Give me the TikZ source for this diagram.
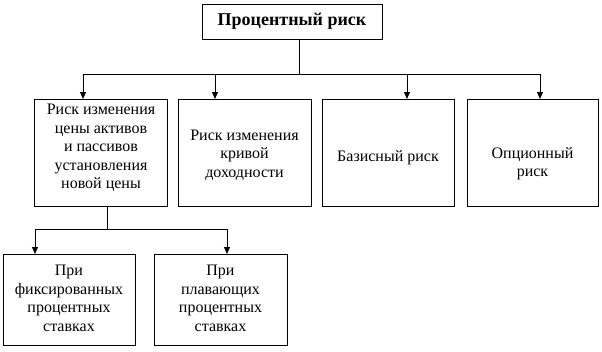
\documentclass[tikz,border=0pt]{standalone}
\usepackage{fontspec}
\setmainfont{Liberation Serif}
\newfontfamily\tnr{Liberation Serif}
\usetikzlibrary{arrows.meta}
\begin{document}
\begin{tikzpicture}[x=1pt,y=-1pt,
 box/.style={draw,line width=1pt,inner sep=0pt,outer sep=0pt},
 txt/.style={inner sep=0pt,align=center,font=\tnr\fontsize{16}{18.5}\selectfont},
 arr/.style={line width=1pt,-{Triangle[width=6pt,length=7pt]}},
 ln/.style={line width=1pt}]
\useasboundingbox (0,0) rectangle (602,351);
\node[box, minimum width=180pt, minimum height=35pt, inner sep=0pt, font=\tnr\fontsize{18}{22}\selectfont\bfseries] (top) at (292,21.5) {Процентный риск};
\node[box, minimum width=133pt, minimum height=107pt] (b1) at (100.5,152.5) {};
\node[box, minimum width=133pt, minimum height=107pt] (b2) at (244.5,152.5) {};
\node[box, minimum width=132pt, minimum height=107pt] (b3) at (388,152.5) {};
\node[box, minimum width=131pt, minimum height=107pt] (b4) at (532.5,152.5) {};
\node[box, minimum width=132pt, minimum height=91pt] (d1) at (69,299.5) {};
\node[box, minimum width=133pt, minimum height=91pt] (d2) at (220.5,299.5) {};
\node[txt] (t1) at (101,148) {Риск изменения\\цены активов\\и пассивов\\установления\\новой цены};
\node[txt] (t2) at (244.5,155) {Риск изменения\\кривой\\доходности};
\node[txt] (t3) at (388,158) {Базисный риск};
\node[txt] (t4) at (532.5,163.5) {Опционный\\риск};
\node[txt] (u1) at (69,298.3) {При\\фиксированных\\процентных\\ставках};
\node[txt] (u2) at (220.5,298.3) {При\\плавающих\\процентных\\ставках};
\coordinate (j1) at (299,74);
\coordinate (a1) at (83,74);
\coordinate (a2) at (215,74);
\coordinate (a3) at (407,74);
\coordinate (a4) at (540,74);
\draw[ln] (top.south -| j1) -- (j1);
\draw[ln] (a1) -- (a4);
\draw[arr] (a1) -- (a1 |- b1.north);
\draw[arr] (a2) -- (a2 |- b2.north);
\draw[arr] (a3) -- (a3 |- b3.north);
\draw[arr] (a4) -- (a4 |- b4.north);
\coordinate (j2) at (107,229);
\coordinate (c1) at (35,229);
\coordinate (c2) at (227,229);
\draw[ln] (j2 |- b1.south) -- (j2);
\draw[ln] (c1) -- (c2);
\draw[arr] (c1) -- (c1 |- d1.north);
\draw[arr] (c2) -- (c2 |- d2.north);
\end{tikzpicture}
\end{document}
